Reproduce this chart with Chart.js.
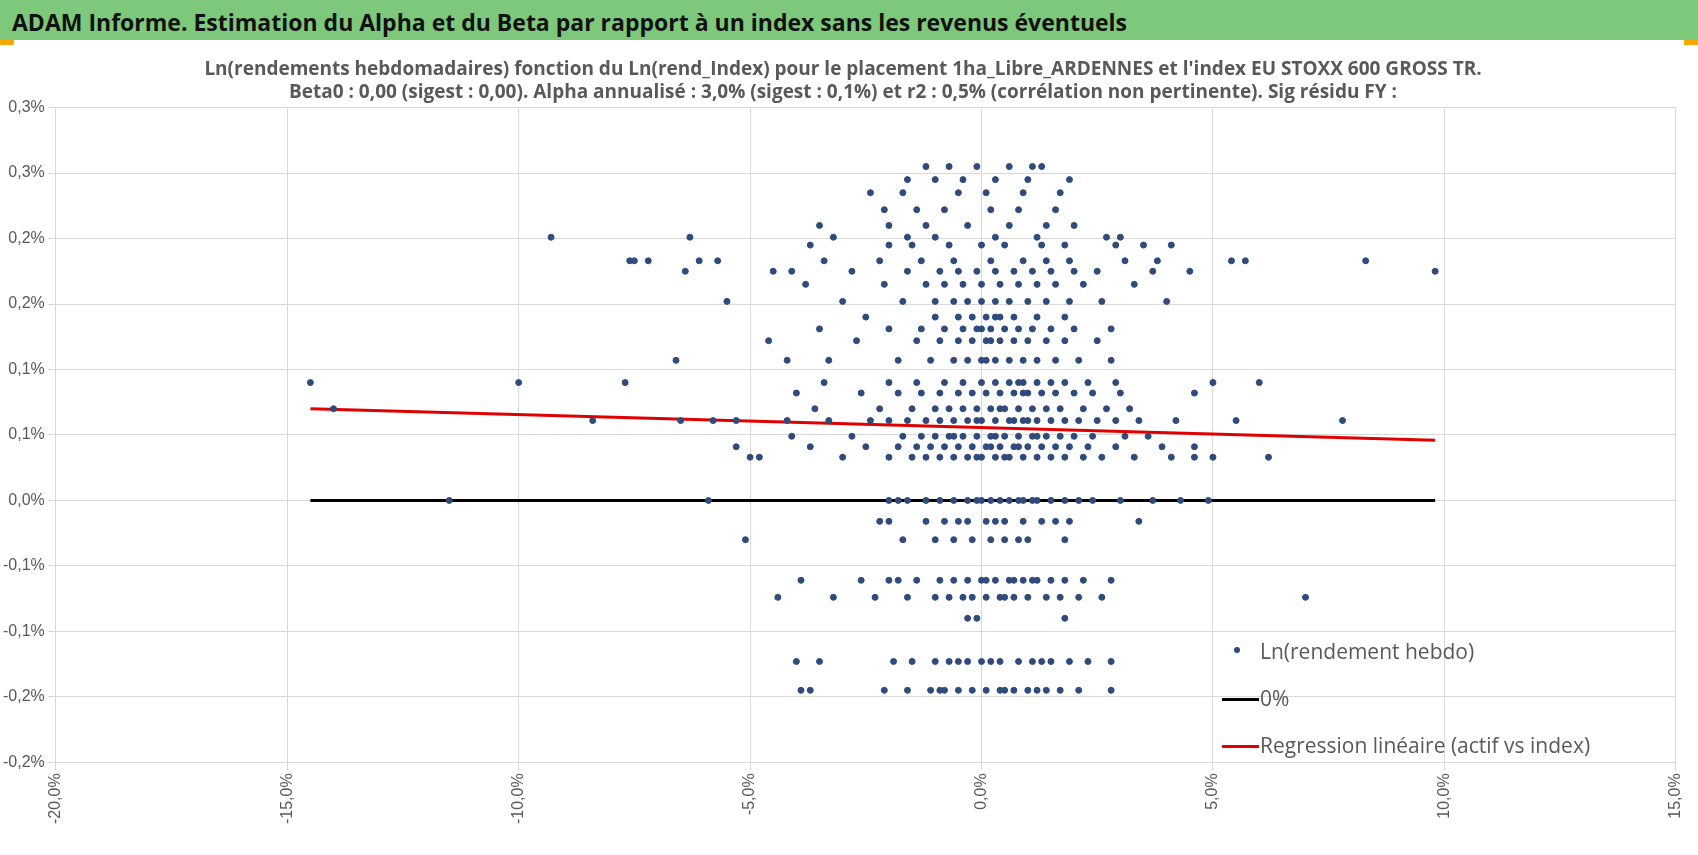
<!DOCTYPE html>
<html>
<head>
<meta charset="utf-8">
<script src="https://cdn.jsdelivr.net/npm/chart.js@4"></script>
<style>
  body { margin: 0; width: 1698px; height: 855px; background: #fff; overflow: hidden; font-family: "Liberation Sans Narrow", "Open Sans", sans-serif; }
  #banner { position: absolute; left: 0; top: 0; width: 1698px; height: 40px; background: #7dc87b; }
  #banner span { position: absolute; left: 12px; top: 6px; font: bold 23px "Liberation Sans Narrow", "Open Sans", sans-serif; color: #111; }
  .corner { position: absolute; top: 40px; width: 14px; height: 5px; background: #f5a800; }
  #wrap { position: absolute; left: 0; top: 42px; width: 1698px; height: 813px; }
  #legend { position: absolute; left: 1222px; top: 633px; font-size: 21px; color: #595959; }
  .item { height: 47px; position: relative; }
  .item span { position: absolute; left: 38px; top: 4px; white-space: nowrap; }
  .dot { position: absolute; left: 12px; top: 14px; width: 6px; height: 6px; border-radius: 3px; background: #2f4b7c; }
  .ln { position: absolute; left: 0; top: 18px; width: 37px; height: 3px; }
</style>
</head>
<body>
<div id="banner"><span>ADAM Informe. Estimation du Alpha et du Beta par rapport à un index sans les revenus éventuels</span></div>
<div class="corner" style="left:0"></div><div class="corner" style="right:0"></div>
<div id="wrap"><canvas id="chart"></canvas></div>
<div id="legend">
  <div class="item"><div class="dot"></div><span>Ln(rendement hebdo)</span></div>
  <div class="item"><div class="ln" style="background:#000"></div><span>0%</span></div>
  <div class="item"><div class="ln" style="background:#e00000"></div><span>Regression linéaire (actif vs index)</span></div>
</div>
<script>
// y levels (Ln rendement hebdo, %) and index returns (%) observed at each level
const levels = [0.000, -0.016, -0.030, -0.061, -0.074, -0.090, -0.123, -0.145,
  0.033, 0.041, 0.049, 0.061, 0.070, 0.082, 0.090, 0.107, 0.122, 0.131, 0.140,
  0.152, 0.165, 0.175, 0.183, 0.195, 0.201, 0.210, 0.222, 0.235, 0.245, 0.255];
const indexByLevel = [
  [-11.5,-5.9,-2.0,-1.8,-1.6,-1.2,-0.9,-0.6,-0.3,-0.1,0.0,0.2,0.4,0.6,0.8,0.9,1.1,1.2,1.5,1.8,2.1,2.4,3.0,3.7,4.3,4.9],
  [-2.2,-2.0,-1.2,-0.8,-0.5,-0.3,0.1,0.3,0.5,0.9,1.3,1.6,1.9,3.4],
  [-5.1,-1.7,-1.0,-0.6,-0.2,0.2,0.5,0.8,1.0,1.8],
  [-3.9,-2.6,-2.0,-1.8,-1.4,-0.9,-0.6,-0.3,0.0,0.1,0.3,0.6,0.7,0.9,1.1,1.2,1.5,1.8,2.2,2.8],
  [-4.4,-3.2,-2.3,-1.6,-1.0,-0.7,-0.4,-0.2,0.1,0.4,0.5,0.7,1.0,1.4,1.7,2.1,2.6,7.0],
  [-0.3,-0.1,1.8],
  [-4.0,-3.5,-1.9,-1.5,-1.0,-0.7,-0.5,-0.3,0.0,0.2,0.4,0.8,1.1,1.3,1.5,1.9,2.3,2.8],
  [-3.9,-3.7,-2.1,-1.6,-1.1,-0.9,-0.8,-0.5,-0.2,0.1,0.4,0.5,0.7,1.0,1.2,1.4,1.7,2.1,2.8],
  [-5.0,-4.8,-3.0,-2.0,-1.5,-1.2,-0.9,-0.6,-0.3,-0.1,0.0,0.3,0.5,0.6,0.9,1.2,1.5,1.8,2.2,2.6,3.3,4.1,4.6,5.0,6.2],
  [-5.3,-3.7,-2.5,-1.8,-1.4,-1.1,-0.8,-0.5,-0.2,0.1,0.2,0.4,0.7,0.8,1.0,1.3,1.6,1.9,2.3,2.9,3.9,4.6],
  [-4.1,-2.8,-1.7,-1.3,-1.0,-0.7,-0.6,-0.4,-0.1,0.2,0.3,0.5,0.8,1.1,1.2,1.4,1.7,2.0,2.4,3.1,3.6],
  [-8.4,-6.5,-5.8,-5.3,-4.2,-3.3,-2.4,-2.0,-1.6,-1.2,-0.9,-0.6,-0.3,-0.1,0.0,0.3,0.6,0.7,0.9,1.0,1.2,1.5,1.8,2.1,2.5,2.9,3.4,4.2,5.5,7.8],
  [-14.0,-3.6,-2.2,-1.5,-1.0,-0.7,-0.4,-0.1,0.2,0.4,0.5,0.8,1.1,1.4,1.7,2.2,2.7,3.2],
  [-4.0,-2.6,-1.8,-1.3,-0.9,-0.5,-0.2,0.1,0.4,0.7,0.9,1.0,1.3,1.6,2.0,2.4,3.0,4.6],
  [-14.5,-10.0,-7.7,-3.4,-2.0,-1.4,-0.8,-0.4,0.0,0.3,0.6,0.8,0.9,1.2,1.5,1.8,2.3,2.9,5.0,6.0],
  [-6.6,-4.2,-3.3,-1.8,-1.1,-0.6,-0.3,0.0,0.1,0.3,0.6,0.9,1.2,1.6,2.1,2.8],
  [-4.6,-2.7,-1.4,-0.9,-0.5,-0.2,0.1,0.2,0.4,0.7,1.0,1.4,1.8,2.5],
  [-3.5,-2.0,-1.3,-0.8,-0.4,-0.1,0.0,0.2,0.5,0.8,1.1,1.5,2.0,2.8],
  [-2.5,-1.0,-0.5,-0.2,0.1,0.3,0.4,0.7,1.2,1.8],
  [-5.5,-3.0,-1.7,-1.0,-0.6,-0.3,0.0,0.3,0.6,1.0,1.4,1.9,2.6,4.0],
  [-3.8,-2.1,-1.2,-0.8,-0.4,0.0,0.4,0.8,1.2,1.6,2.2,3.3],
  [-6.4,-4.5,-4.1,-2.8,-1.6,-0.9,-0.5,-0.1,0.3,0.7,1.1,1.5,2.0,2.5,3.7,4.5,9.8],
  [-7.6,-7.5,-7.2,-6.1,-5.7,-3.4,-2.2,-1.3,-0.6,0.2,0.9,1.4,1.9,3.1,3.8,5.4,5.7,8.3],
  [-3.7,-2.0,-1.5,-0.7,0.0,0.5,1.3,1.8,2.9,3.5,4.1],
  [-9.3,-6.3,-3.2,-1.6,-1.0,0.3,1.2,2.7,3.0],
  [-3.5,-2.0,-1.2,-0.3,0.6,1.4,2.0],
  [-2.1,-1.4,-0.8,0.2,0.8,1.6],
  [-2.4,-1.7,-0.5,0.1,0.9,1.7],
  [-1.6,-1.0,-0.4,0.3,1.0,1.9],
  [-1.2,-0.7,-0.1,0.6,1.1,1.3]
];
const zeroLine = [[-14.5, 0], [9.8, 0]];
const regressionLine = [[-14.5, 0.070], [9.8, 0.046]];
const yTickLabels = {'-0.2': '-0,2%', '-0.15': '-0,2%', '-0.1': '-0,1%', '-0.05': '-0,1%', '0': '0,0%',
  '0.05': '0,1%', '0.1': '0,1%', '0.15': '0,2%', '0.2': '0,2%', '0.25': '0,3%', '0.3': '0,3%'};

const points = [];
levels.forEach((y, i) => indexByLevel[i].forEach(x => points.push({x: x, y: y})));
const gray = '#595959';

new Chart(document.getElementById('chart'), {
  type: 'scatter',
  data: {
    datasets: [
      { data: points, backgroundColor: '#2f4b7c', borderColor: '#2f4b7c', pointRadius: 3, pointHoverRadius: 3 },
      { type: 'line', data: zeroLine.map(p => ({x: p[0], y: p[1]})), borderColor: '#000', borderWidth: 3, pointRadius: 0 },
      { type: 'line', data: regressionLine.map(p => ({x: p[0], y: p[1]})), borderColor: '#e00000', borderWidth: 3, pointRadius: 0 }
    ]
  },
  options: {
    responsive: true,
    maintainAspectRatio: false,
    animation: false,
    layout: { padding: { left: 0, right: 12, top: 0, bottom: 28 } },
    plugins: {
      legend: { display: false },
      tooltip: { enabled: false },
      title: {
        display: true,
        text: ["Ln(rendements hebdomadaires) fonction du Ln(rend_Index) pour le placement 1ha_Libre_ARDENNES et l'index EU STOXX 600 GROSS TR.",
               "Beta0 : 0,00 (sigest : 0,00). Alpha annualisé : 3,0% (sigest : 0,1%) et r2 : 0,5% (corrélation non pertinente). Sig résidu FY :"],
        color: gray,
        font: { size: 19, family: '"Liberation Sans Narrow", "Open Sans", sans-serif' },
        padding: { top: 16, bottom: 4 },
        lineHeight: 1.4
      }
    },
    scales: {
      x: {
        min: -20, max: 15,
        ticks: { stepSize: 5, minRotation: 90, maxRotation: 90, color: gray,
                 font: { size: 16, family: '"Liberation Sans Narrow", sans-serif' },
                 callback: v => v.toFixed(1).replace('.', ',') + '%' },
        grid: { color: '#d9d9d9' },
        border: { color: '#d9d9d9' }
      },
      y: {
        min: -0.2, max: 0.3,
        ticks: { stepSize: 0.05, color: gray,
                 font: { size: 16, family: '"Liberation Sans Narrow", sans-serif' },
                 callback: v => yTickLabels[String(Math.round(v * 100) / 100)] },
        grid: { color: '#d9d9d9' },
        border: { color: '#d9d9d9' }
      }
    }
  }
});
</script>
</body>
</html>
